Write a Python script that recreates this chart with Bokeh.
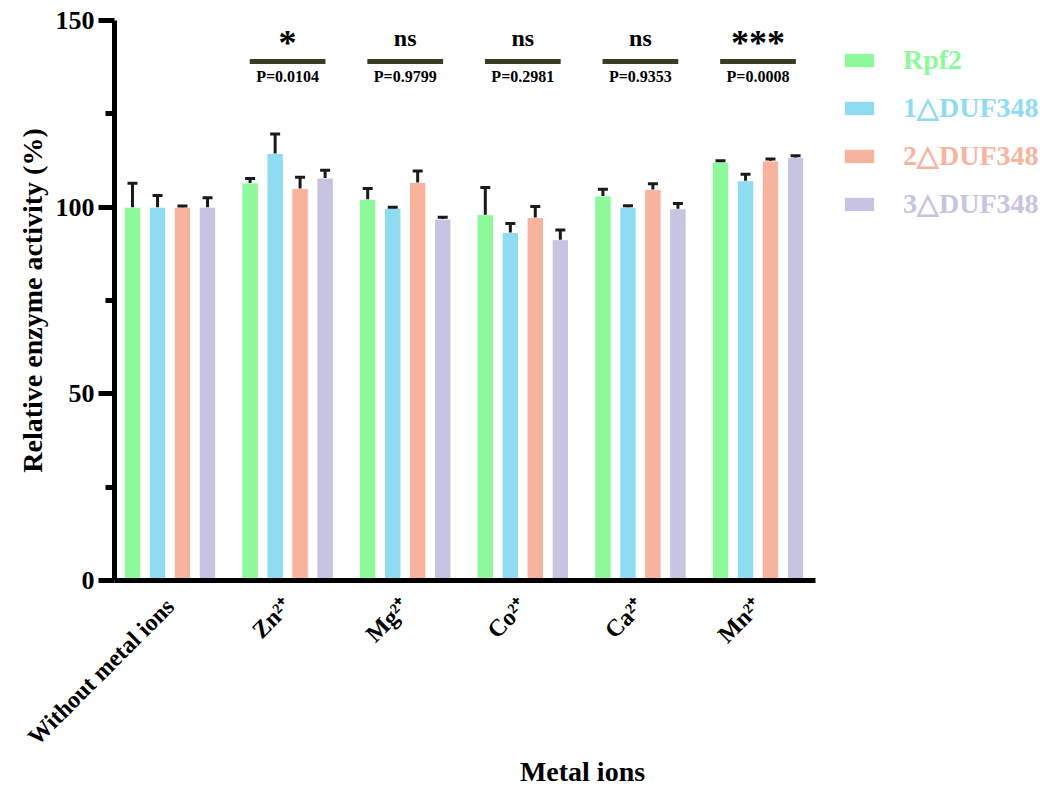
import math
from bokeh.plotting import figure
from bokeh.models import Range1d, FixedTicker, Whisker, TeeHead, ColumnDataSource, Legend, LegendItem
from bokeh.core.properties import value
from bokeh.embed import file_html
from bokeh.resources import INLINE

groups = ["Without metal ions", "Zn²⁺", "Mg²⁺", "Co²⁺", "Ca²⁺", "Mn²⁺"]
series = ["Rpf2", "1△DUF348", "2△DUF348", "3△DUF348"]
colors = ["#8EF99B", "#8FDBF2", "#F8B39E", "#C6C4E1"]

rpf2 = [100.0, 106.5, 102.1, 98.0, 103.0, 112.1]
rpf2_err = [6.4, 1.2, 2.9, 7.3, 1.8, 0.3]
duf1 = [100.0, 114.4, 99.7, 93.2, 100.0, 107.1]
duf1_err = [3.1, 5.2, 0.3, 2.4, 0.4, 1.7]
duf2 = [100.0, 105.0, 106.6, 97.2, 104.7, 112.4]
duf2_err = [0.3, 3.0, 3.1, 3.0, 1.6, 0.5]
duf3 = [100.0, 107.8, 96.8, 91.3, 99.6, 113.3]
duf3_err = [2.5, 2.1, 0.5, 2.6, 1.4, 0.5]

sig_groups = [1, 2, 3, 4, 5]
sig_marks = ["*", "ns", "ns", "ns", "***"]
p_values = ["P=0.0104", "P=0.9799", "P=0.2981", "P=0.9353", "P=0.0008"]

y_ticks = [0, 50, 100, 150]
y_minor = [25, 75, 125]

values = [rpf2, duf1, duf2, duf3]
errors = [rpf2_err, duf1_err, duf2_err, duf3_err]

SERIF = "Liberation Serif"

p = figure(width=1050, height=790,
           min_border_left=114, min_border_right=0, min_border_top=20, min_border_bottom=210,
           x_range=Range1d(-0.472, 7.487), y_range=Range1d(0, 150),
           output_backend="svg", toolbar_location=None)
p.outline_line_color = None
p.grid.visible = False
p.background_fill_color = "white"

offsets = [-0.319, -0.106, 0.106, 0.319]
bar_w = 0.14
renderers = []
for k in range(4):
    xs = [i + offsets[k] for i in range(len(groups))]
    src = ColumnDataSource(dict(x=xs, top=values[k],
                                upper=[v + e for v, e in zip(values[k], errors[k])]))
    r = p.vbar(x="x", top="top", bottom=0, width=bar_w, source=src,
               fill_color=colors[k], line_color="white", line_width=1)
    renderers.append(r)
    w = Whisker(base="x", lower="top", upper="upper", source=src, dimension="height",
                line_color="#1a1a1a", line_width=3,
                upper_head=TeeHead(size=10, line_color="#1a1a1a", line_width=3),
                lower_head=None, level="overlay")
    p.add_layout(w)

# significance bars
sig_y = 139.0
ssrc = ColumnDataSource(dict(
    x0=[g - 0.322 for g in sig_groups], x1=[g + 0.322 for g in sig_groups],
    x=sig_groups, y=[sig_y] * len(sig_groups),
    marks=sig_marks, pv=p_values,
    msize=["36px" if "*" in m else "24px" for m in sig_marks],
    moff=[-19 if "*" in m else -24 for m in sig_marks],
))
p.segment(x0="x0", x1="x1", y0="y", y1="y", source=ssrc, line_color="#3b3d22", line_width=5)
p.text(x="x", y="y", text="marks", source=ssrc, text_align="center", text_baseline="middle",
       y_offset="moff", text_font=value(SERIF), text_font_style="bold", text_font_size="msize",
       text_color="black")
p.text(x="x", y="y", text="pv", source=ssrc, text_align="center", text_baseline="middle",
       y_offset=15, text_font=value(SERIF), text_font_style="bold", text_font_size="16px",
       text_color="black")

# axes
xa = p.xaxis[0]
xa.ticker = FixedTicker(ticks=list(range(len(groups))))
xa.major_label_overrides = {i: g for i, g in enumerate(groups)}
xa.major_label_orientation = math.pi / 4
xa.major_tick_out = 0
xa.major_tick_in = 0
xa.minor_tick_out = 0
xa.axis_line_width = 5
xa.bounds = (-0.472, 5.49)
xa.major_label_text_font = SERIF
xa.major_label_text_font_style = "bold"
xa.major_label_text_font_size = "24px"
xa.major_label_text_color = "black"
xa.major_label_standoff = 22
xa.axis_label = "Metal ions"
xa.axis_label_text_font = SERIF
xa.axis_label_text_font_style = "bold"
xa.axis_label_text_font_size = "28px"
xa.axis_label_text_color = "black"
xa.axis_label_standoff = -6

ya = p.yaxis[0]
ya.ticker = FixedTicker(ticks=y_ticks, minor_ticks=y_minor)
ya.axis_line_width = 5
ya.major_tick_line_width = 5
ya.minor_tick_line_width = 5
ya.major_tick_out = 16
ya.major_tick_in = 0
ya.minor_tick_out = 9
ya.minor_tick_in = 0
ya.major_label_text_font = SERIF
ya.major_label_text_font_style = "bold"
ya.major_label_text_font_size = "26px"
ya.major_label_text_color = "black"
ya.major_label_standoff = 4
ya.axis_label = "Relative enzyme activity (%)"
ya.axis_label_text_font = SERIF
ya.axis_label_text_font_style = "bold"
ya.axis_label_text_font_size = "28px"
ya.axis_label_text_color = "black"
ya.axis_label_standoff = 5

# legends, one per series so each label has its own colour
legend_y = [504, 456, 408, 360]
for k in range(4):
    lg = Legend(items=[LegendItem(label=series[k], renderers=[renderers[k]])],
                location=(726, legend_y[k]),
                glyph_width=38, glyph_height=18, label_standoff=25,
                padding=0, margin=0, spacing=0,
                border_line_color=None, background_fill_alpha=0,
                label_text_font=SERIF, label_text_font_style="bold",
                label_text_font_size="28px", label_text_color=colors[k])
    p.add_layout(lg)

open("out.html", "w").write(file_html(p, INLINE))
